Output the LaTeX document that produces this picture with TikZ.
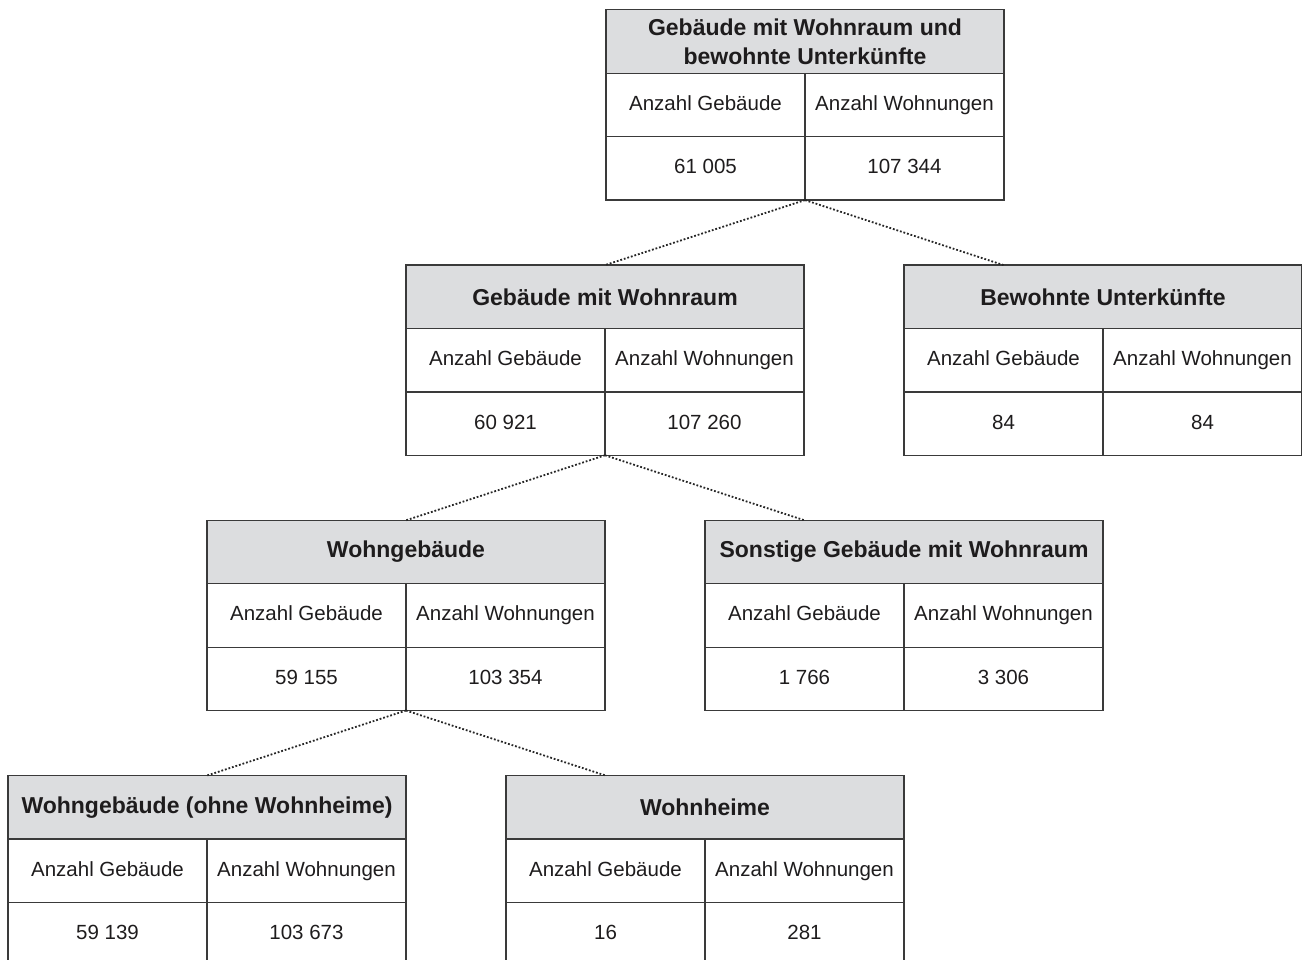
\documentclass[tikz,border=0pt]{standalone}
\usepackage{fontspec}
\setmainfont{Liberation Sans}
\usetikzlibrary{matrix,positioning}
\definecolor{kopfgrau}{HTML}{DCDDDF}
\definecolor{rahmen}{HTML}{3A3A3A}
\definecolor{schrift}{HTML}{1E1C1D}
\tikzset{
     zelle/.style = { draw=rahmen, line width=1.2pt, text=schrift, inner sep=0pt,
                      outer sep=0pt, anchor=center,
                      minimum width=199pt, minimum height=63.4pt,
                      text height=15pt, text depth=4pt,
                      font=\fontsize{20.5}{24}\selectfont },
      kopf/.style = { draw=rahmen, line width=1.2pt, fill=kopfgrau, text=schrift,
                      inner sep=0pt, outer sep=0pt, align=center,
                      minimum width=398pt, minimum height=63.4pt,
                      font=\bfseries\fontsize{23}{29}\selectfont },
     tafel/.style = { matrix of nodes, nodes in empty cells, inner sep=0pt, outer sep=0pt,
                      column sep=-1.2pt, row sep=-1.2pt, nodes={zelle} },
    punkte/.style = { line width=1.8pt, color=black!85, dash pattern=on 1.8pt off 1.9pt }
}
\newcommand*{\anzgeb}{Anzahl Gebäude}
\newcommand*{\anzwhg}{Anzahl Wohnungen}

\begin{document}
\begin{tikzpicture}
  \useasboundingbox (0pt,0pt) rectangle (1302pt,-960pt);

  \matrix (gs) at (805pt,-105pt) [tafel]
    {
               &         \\
       \anzgeb & \anzwhg \\
        61 005 & 107 344 \\
    };
  \node[kopf] (gs-k) at (gs-1-1.east) {Gebäude mit Wohnraum und\\bewohnte Unterkünfte};

  \matrix (wr) [tafel, below=63.8pt of gs.south, xshift=-200pt]
    {
               &         \\
       \anzgeb & \anzwhg \\
        60 921 & 107 260 \\
    };
  \node[kopf] (wr-k) at (wr-1-1.east) {Gebäude mit Wohnraum};

  \matrix (bu) [tafel, below=63.8pt of gs.south, xshift=298pt]
    {
               &         \\
       \anzgeb & \anzwhg \\
            84 &      84 \\
    };
  \node[kopf] (bu-k) at (bu-1-1.east) {Bewohnte Unterkünfte};

  \matrix (wg) [tafel, below=63.8pt of wr.south, xshift=-199pt]
    {
               &         \\
       \anzgeb & \anzwhg \\
        59 155 & 103 354 \\
    };
  \node[kopf] (wg-k) at (wg-1-1.east) {Wohngebäude};

  \matrix (sg) [tafel, below=63.8pt of wr.south, xshift=299pt]
    {
               &         \\
       \anzgeb & \anzwhg \\
         1 766 &   3 306 \\
    };
  \node[kopf] (sg-k) at (sg-1-1.east) {Sonstige Gebäude mit Wohnraum};

  \matrix (wo) [tafel, below=63.8pt of wg.south, xshift=-199pt]
    {
               &         \\
       \anzgeb & \anzwhg \\
        59 139 & 103 673 \\
    };
  \node[kopf] (wo-k) at (wo-1-1.east) {Wohngebäude (ohne Wohnheime)};

  \matrix (wh) [tafel, below=63.8pt of wg.south, xshift=299pt]
    {
               &         \\
       \anzgeb & \anzwhg \\
            16 &     281 \\
    };
  \node[kopf] (wh-k) at (wh-1-1.east) {Wohnheime};

  % links: linkes Kind mittig, rechtes Kind an erster Spalte
  \foreach \a/\b/\c in {gs/wr/bu, wr/wg/sg, wg/wo/wh} {
    \draw [punkte] (\a-3-1.south east) -- (\b-k.north);
    \draw [punkte] (\a-3-1.south east) -- (\c-1-1.north);
  }
\end{tikzpicture}
\end{document}
